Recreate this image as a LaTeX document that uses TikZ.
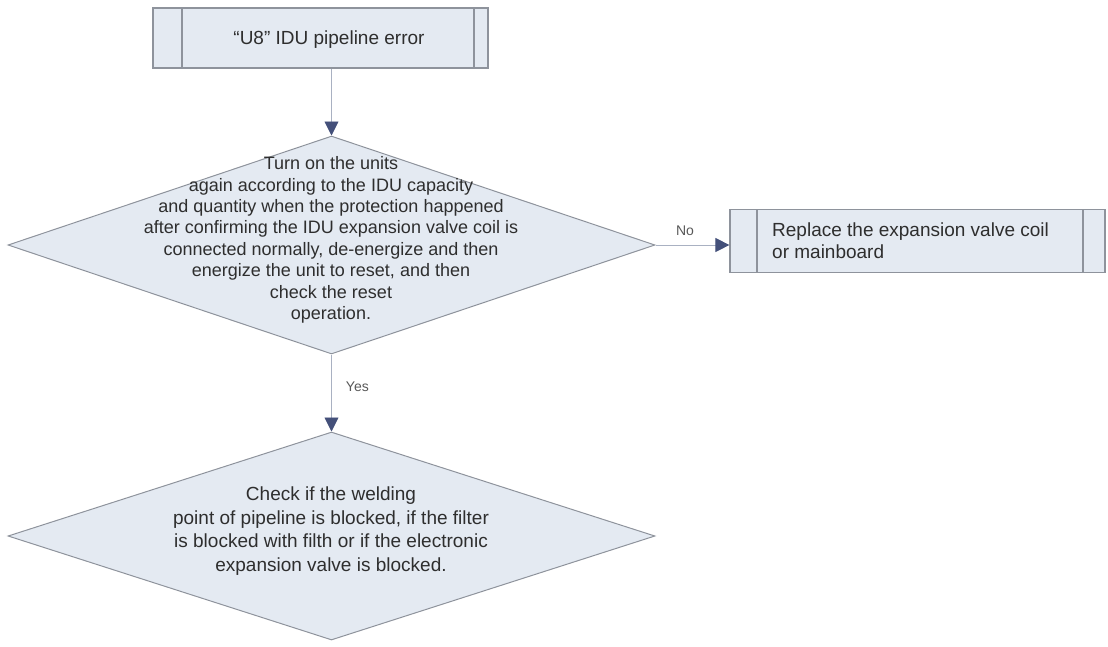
\documentclass[tikz,border=0pt]{standalone}
\usepackage{fontspec}
\setmainfont{Liberation Sans}
\usetikzlibrary{shapes.geometric,arrows.meta}
\definecolor{boxfill}{HTML}{E4EAF2}
\definecolor{boxline}{HTML}{8E939C}
\definecolor{arrline}{HTML}{A9B1C2}
\definecolor{tipcol}{HTML}{44507A}
\definecolor{txt}{HTML}{2E2E2E}
\tikzset{
  procbox/.style={draw=boxline, line width=1.2pt, fill=boxfill, rectangle, inner sep=0pt},
  decision/.style={draw=boxline, line width=1pt, fill=boxfill, diamond, aspect=3, inner sep=0pt},
  flowtext/.style={text=txt, align=center, inner sep=0pt, font=\fontsize{18}{21.4}\selectfont},
  flow/.style={draw=arrline, line width=0.9pt, -{Triangle[length=14pt,width=14pt,color=tipcol]}},
  lbl/.style={text=txt!80, font=\fontsize{14}{16}\selectfont, inner sep=0pt}
}
\begin{document}
\begin{tikzpicture}[x=1pt,y=-1pt]
\useasboundingbox (0,0) rectangle (1108,646);
% top box
\node[procbox, minimum width=335pt, minimum height=60pt] (b1) at (320.5,38) {};
\draw[boxline, line width=1.2pt] (182,8) -- (182,68) (474,8) -- (474,68);
\node[flowtext, font=\fontsize{19}{22}\selectfont] (b1t) at (329,40) {“U8” IDU pipeline error};
% decision 1
\node[decision, minimum width=647pt, minimum height=218pt] (d1) at (331.5,245) {};
\node[flowtext] (d1t) at (331,240) {Turn on the units\\again according to the IDU capacity\\and quantity when the protection happened\\after confirming the IDU expansion valve coil is\\connected normally, de-energize and then\\energize the unit to reset, and then\\check the reset\\operation.};
% decision 2
\node[decision, minimum width=647pt, minimum height=208pt] (d2) at (331.5,536) {};
\node[flowtext, font=\fontsize{19}{23.5}\selectfont] (d2t) at (331,531) {Check if the welding\\point of pipeline is blocked, if the filter\\is blocked with filth or if the electronic\\expansion valve is blocked.};
% right box
\node[procbox, minimum width=375pt, minimum height=63pt] (b2) at (917.5,241) {};
\draw[boxline, line width=1.2pt] (757,209.5) -- (757,272.5) (1083,209.5) -- (1083,272.5);
\node[flowtext, align=left, anchor=west, font=\fontsize{19}{22}\selectfont] (b2t) at (772,241) {Replace the expansion valve coil\\or mainboard};
% connectors
\draw[flow] (d1.north |- b1.south) -- (d1.north);
\draw[flow] (d1.east) -- (d1.east -| b2.west) node[lbl, pos=0.4, above=9pt] (no) {No};
\draw[flow] (d1.south) -- (d2.north) node[lbl, pos=0.42, right=14pt] (yes) {Yes};
\end{tikzpicture}
\end{document}
